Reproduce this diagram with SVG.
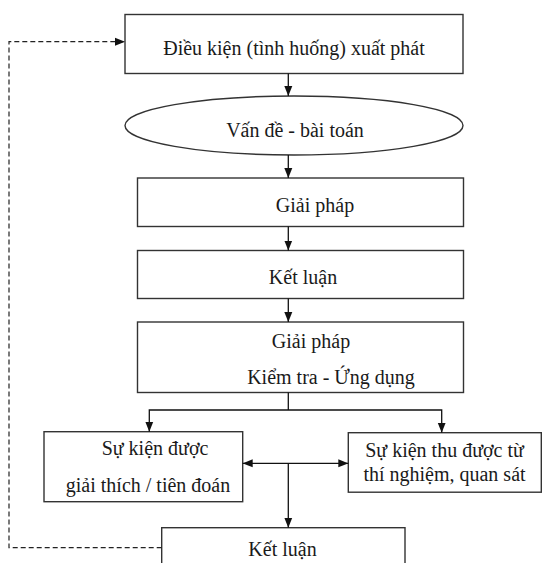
<svg xmlns="http://www.w3.org/2000/svg" width="543" height="563" viewBox="0 0 543 563">
<style>
.box{fill:#fff;stroke:#333;stroke-width:1.4}
.t{font-family:"Liberation Serif","DejaVu Serif",serif;font-size:20px;fill:#1a1a1a;text-anchor:middle}
.c{fill:none;stroke:#111;stroke-width:1.3}
.d{fill:none;stroke:#222;stroke-width:1.2;stroke-dasharray:5 3}
</style>
<defs>
<marker id="a" markerUnits="userSpaceOnUse" markerWidth="10" markerHeight="10" viewBox="0 0 10 10" refX="10" refY="5" orient="auto">
<path d="M0,1 L10,5 L0,9 Z" fill="#111"/>
</marker>
<marker id="as" markerUnits="userSpaceOnUse" markerWidth="10" markerHeight="10" viewBox="0 0 10 10" refX="0" refY="5" orient="auto">
<path d="M10,1 L0,5 L10,9 Z" fill="#111"/>
</marker>
</defs>
<rect width="543" height="563" fill="#fff"/>
<g id="n1"><rect class="box" x="125" y="14.5" width="338" height="59"/><text class="t" x="294" y="55">Điều kiện (tình huống) xuất phát</text></g>
<g id="n2"><ellipse class="box" cx="294" cy="125.5" rx="169" ry="29.5"/><text class="t" x="295" y="137">Vấn đề - bài toán</text></g>
<g id="n3"><rect class="box" x="137.5" y="178" width="326" height="48.5"/><text class="t" x="315" y="212">Giải pháp</text></g>
<g id="n4"><rect class="box" x="137.5" y="250.5" width="326" height="48"/><text class="t" x="303" y="283.5">Kết luận</text></g>
<g id="n5"><rect class="box" x="137.5" y="322" width="326" height="70.5"/><text class="t" x="311" y="347.5">Giải pháp</text><text class="t" x="331" y="384">Kiểm tra - Ứng dụng</text></g>
<g id="n6"><rect class="box" x="44" y="431.7" width="198.7" height="70"/><text class="t" x="155" y="455">Sự kiện được</text><text class="t" x="148" y="491.5">giải thích / tiên đoán</text></g>
<g id="n7"><rect class="box" x="348.3" y="432.7" width="193" height="59.5"/><text class="t" x="444.5" y="456.5">Sự kiện thu được từ</text><text class="t" x="444.5" y="480.5">thí nghiệm, quan sát</text></g>
<g id="n8"><rect class="box" x="161.7" y="527.7" width="243.3" height="40"/><text class="t" x="282.5" y="556">Kết luận</text></g>
<g id="connectors">
<line class="c" x1="288.3" y1="73.5" x2="288.3" y2="96" marker-end="url(#a)"/>
<line class="c" x1="288.3" y1="155" x2="288.3" y2="178" marker-end="url(#a)"/>
<line class="c" x1="288.3" y1="226.5" x2="288.3" y2="250.5" marker-end="url(#a)"/>
<line class="c" x1="288.3" y1="298.5" x2="288.3" y2="322" marker-end="url(#a)"/>
<polyline class="c" points="288.3,392.5 288.3,410"/>
<polyline class="c" points="149.3,431.7 149.3,410 441.7,410 441.7,432.7" marker-start="url(#as)" marker-end="url(#a)"/>
<line class="c" x1="242.7" y1="463.3" x2="348.3" y2="463.3" marker-start="url(#as)" marker-end="url(#a)"/>
<line class="c" x1="288.3" y1="463.3" x2="288.3" y2="527.7" marker-end="url(#a)"/>
<polyline class="d" points="161.7,547.7 9,547.7 9,41.7 125,41.7" marker-end="url(#a)"/>
</g>
</svg>
